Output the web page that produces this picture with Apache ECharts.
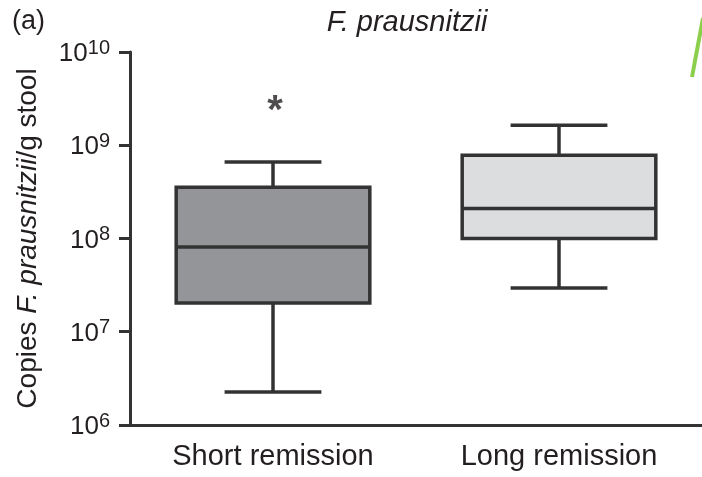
<!DOCTYPE html>
<html>
<head>
<meta charset="utf-8">
<script src="https://cdn.jsdelivr.net/npm/echarts@6/dist/echarts.min.js"></script>
<style>
  html, body { margin: 0; padding: 0; background: #fff; }
  #chart { width: 702px; height: 477px; }
</style>
</head>
<body>
<div id="chart"></div>
<script>
// Groups and five-number summaries (copies per g stool)
const categories = ['Short remission', 'Long remission'];
const whiskerLow = [2.26e6, 2.95e7];
const quartile1 = [2.03e7, 1.0e8];
const medians = [8.1e7, 2.1e8];
const quartile3 = [3.55e8, 7.8e8];
const whiskerHigh = [6.6e8, 1.64e9];
// Significance marker placed above the first group
const starMarks = [['Short remission', 2.8e9]];
// Decades shown on the log axis
const yTicks = [6, 7, 8, 9, 10];

const FONT = '"Liberation Sans", Arial, Helvetica, sans-serif';
const INK = '#231f20';
const LINE = '#333333';
const boxFills = ['#939598', '#dcdddf'];

const boxData = categories.map((c, i) =>
  [i, whiskerLow[i], quartile1[i], medians[i], quartile3[i], whiskerHigh[i]]);

function renderBox(params, api) {
  const idx = api.value(0);
  const band = params.coordSys.width / categories.length;
  const boxW = band * 0.677;
  const capW = boxW * 0.5;
  const pLow = api.coord([idx, api.value(1)]);
  const pQ1 = api.coord([idx, api.value(2)]);
  const pMed = api.coord([idx, api.value(3)]);
  const pQ3 = api.coord([idx, api.value(4)]);
  const pHigh = api.coord([idx, api.value(5)]);
  const cx = pMed[0];
  const stroke = { stroke: LINE, lineWidth: 3.5 };
  return {
    type: 'group',
    children: [
      { type: 'line', shape: { x1: cx, y1: pHigh[1], x2: cx, y2: pQ3[1] }, style: stroke },
      { type: 'line', shape: { x1: cx, y1: pQ1[1], x2: cx, y2: pLow[1] }, style: stroke },
      { type: 'line', shape: { x1: cx - capW / 2, y1: pHigh[1], x2: cx + capW / 2, y2: pHigh[1] }, style: stroke },
      { type: 'line', shape: { x1: cx - capW / 2, y1: pLow[1], x2: cx + capW / 2, y2: pLow[1] }, style: stroke },
      {
        type: 'rect',
        shape: { x: cx - boxW / 2, y: pQ3[1], width: boxW, height: pQ1[1] - pQ3[1] },
        style: { fill: boxFills[idx], stroke: LINE, lineWidth: 3.5 }
      },
      { type: 'line', shape: { x1: cx - boxW / 2, y1: pMed[1], x2: cx + boxW / 2, y2: pMed[1] }, style: stroke }
    ]
  };
}

const chart = echarts.init(document.getElementById('chart'), null, { renderer: 'canvas' });
chart.setOption({
  animation: false,
  backgroundColor: '#ffffff',
  title: {
    text: 'F. prausnitzii',
    left: 402,
    top: 3,
    textAlign: 'center',
    textStyle: { fontFamily: FONT, fontSize: 29, fontStyle: 'italic', fontWeight: 'normal', color: INK }
  },
  graphic: [
    {
      type: 'text', left: 12, top: 8,
      style: { text: '(a)', fontFamily: FONT, fontSize: 27, fill: INK }
    },
    {
      type: 'line',
      shape: { x1: 703, y1: 18, x2: 692, y2: 77 },
      style: { stroke: '#8bcf4c', lineWidth: 4 }
    }
  ],
  grid: { left: 130, top: 52, width: 576, bottom: 52, containLabel: false },
  xAxis: {
    type: 'category',
    data: categories,
    boundaryGap: true,
    axisLine: { lineStyle: { color: LINE, width: 3 } },
    axisTick: { alignWithLabel: true, length: 6, lineStyle: { color: LINE, width: 3 } },
    axisLabel: { margin: 17, fontFamily: FONT, fontSize: 29, color: INK },
    splitLine: { show: false }
  },
  yAxis: {
    type: 'log',
    logBase: 10,
    min: Math.pow(10, yTicks[0]),
    max: Math.pow(10, yTicks[yTicks.length - 1]),
    name: '{n|Copies }{i|F. prausnitzii}{n|/g stool}',
    nameLocation: 'middle',
    nameRotate: 90,
    nameGap: 88,
    nameTextStyle: {
      rich: {
        n: { fontFamily: FONT, fontSize: 28, color: INK },
        i: { fontFamily: FONT, fontSize: 28, fontStyle: 'italic', color: INK }
      }
    },
    axisLine: { show: true, lineStyle: { color: LINE, width: 3 } },
    axisTick: { show: true, length: 11, lineStyle: { color: LINE, width: 3 } },
    splitLine: { show: false },
    minorTick: { show: false },
    axisLabel: {
      margin: 20,
      formatter: function (v) {
        const e = Math.round(Math.log10(v));
        return '{b|10}{s|' + e + '}';
      },
      rich: {
        b: { fontFamily: FONT, fontSize: 26, color: INK, verticalAlign: 'bottom', lineHeight: 30 },
        s: { fontFamily: FONT, fontSize: 20, color: INK, verticalAlign: 'bottom', lineHeight: 30, padding: [0, 0, 9, 0] }
      }
    }
  },
  series: [
    {
      type: 'custom',
      renderItem: renderBox,
      data: boxData,
      encode: { x: 0, y: [1, 2, 3, 4, 5] },
      clip: false
    },
    {
      type: 'scatter',
      data: starMarks,
      symbolSize: 0,
      label: {
        show: true,
        position: 'inside',
        offset: [2, 8],
        formatter: '*',
        fontFamily: FONT,
        fontSize: 40,
        fontWeight: 'bold',
        color: INK
      }
    }
  ]
});
</script>
</body>
</html>
